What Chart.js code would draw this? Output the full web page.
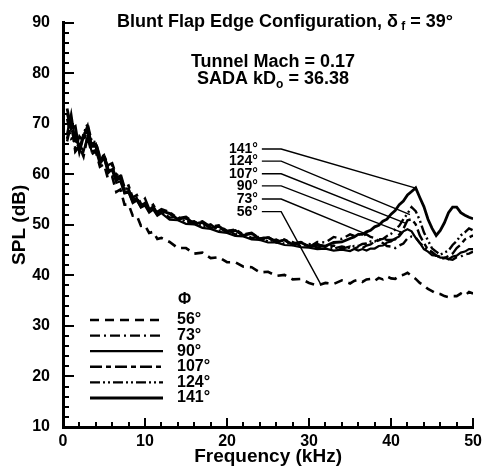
<!DOCTYPE html>
<html>
<head>
<meta charset="utf-8">
<script src="https://cdn.jsdelivr.net/npm/chart.js@4.4.1/dist/chart.umd.min.js"></script>
<style>
  html, body { margin: 0; padding: 0; background: #fff; }
  #spl { display: block; }
</style>
</head>
<body>
<canvas id="spl" width="487" height="472"></canvas>
<script>
var FONT = '"Liberation Sans", Arial, Helvetica, sans-serif';

// frequency (kHz) shared by every microphone angle
var freq = [0.5, 1, 1.5, 2, 2.5, 3, 3.5, 4, 4.5, 5, 5.5, 6, 6.5, 7, 7.5, 8, 8.5, 9, 9.5, 10, 10.5, 11, 11.5, 12,
    13, 14, 15, 16, 17, 18, 19, 20, 21, 22, 23, 24, 25, 26, 27, 28, 29, 30, 31, 32, 33, 34, 35,
    35.5, 36, 36.5, 37, 37.5, 38, 38.5, 39, 39.5, 40, 40.5, 41, 41.5, 42, 42.5, 43, 43.5, 44, 44.5,
    45, 45.5, 46, 46.5, 47, 47.5, 48, 48.5, 49, 49.5, 50];

// SPL (dB) per angle
var spl56 = [67, 70.5, 64.5, 65.5, 63.5, 67.5, 64, 64.5, 61.5, 62, 59, 59.5, 56.5, 57, 54, 54, 51.8, 51.8, 49.8, 49.9, 48.4, 48.6, 47.2, 47.4,
    46.6, 45.4, 45.4, 44.3, 44.5, 43.4, 43.6, 42.6, 42.6, 41.7, 41.6, 40.6, 40.7, 39.9, 40.1, 39.2, 39.3, 38.5, 38.0, 38.5, 38.3, 39.0, 38.4,
    38.9, 39.1, 38.7, 39.2, 39.3, 38.9, 39.5, 39.2, 39.8, 39.4, 39.3, 39.9, 40.1, 40.5, 39.9, 39.3, 38.5, 38.0, 37.3,
    36.9, 36.4, 36.3, 35.9, 35.7, 35.9, 35.9, 36.4, 36.0, 36.7, 36.4];
var spl73 = [71, 67, 67.5, 64.5, 68, 68.5, 65.5, 66, 62.5, 64, 60.8, 61.8, 58.8, 59.5, 56.8, 57, 54.8, 55.5, 53.6, 54.2, 52.6, 53.4, 52.1, 52.6,
    52.3, 51.0, 51.3, 50.1, 50.4, 49.3, 49.5, 48.5, 48.9, 47.8, 48.2, 47.0, 47.5, 46.5, 47.0, 46.0, 46.5, 45.6, 46.6, 46.5, 47.6, 47.2, 48.1,
    47.8, 48.2, 47.9, 48.1, 47.6, 47.4, 46.7, 46.4, 45.8, 45.7, 45.4, 45.9, 46.3, 47.3, 47.7, 47.5, 46.4, 45.7, 44.9,
    44.6, 43.9, 43.7, 43.2, 43.2, 43.1, 43.6, 43.7, 44.2, 44.3, 44.7];
var spl90 = [68, 72, 66.5, 66, 64.5, 67.5, 64.5, 64.8, 62, 63.2, 60.2, 61, 58.3, 58.6, 56.2, 56.4, 54.3, 54.8, 53.4, 53.8, 52.4, 53, 51.8, 52.3,
    51.0, 50.9, 50.2, 50.1, 49.4, 49.2, 48.6, 48.4, 47.8, 47.7, 47.1, 47.0, 46.5, 46.5, 46.0, 45.9, 45.6, 45.5, 45.2, 45.3, 44.9, 45.1, 44.8,
    45.2, 44.9, 45.2, 44.9, 45.3, 45.3, 45.8, 45.9, 46.5, 46.7, 47.3, 47.7, 48.7, 49.1, 48.7, 47.4, 46.4, 45.2, 44.7,
    44.0, 43.9, 43.5, 43.5, 43.2, 43.7, 43.9, 44.5, 44.7, 45.2, 45.2];
var spl107 = [66.5, 70, 65, 67.5, 66.5, 69, 66, 66.3, 63.6, 63.8, 61.8, 62.2, 59.8, 60.2, 57.4, 57.8, 55.4, 55.9, 54.2, 55.2, 53.2, 54, 52.6, 53.1,
    52.5, 51.3, 51.6, 50.4, 50.7, 49.6, 49.9, 48.8, 49.1, 48.1, 48.4, 47.3, 47.6, 46.7, 47.1, 46.3, 46.6, 45.8, 46.2, 45.6, 45.9, 45.3, 45.7,
    45.3, 45.6, 45.4, 45.9, 46.1, 46.7, 46.9, 47.4, 47.0, 47.0, 47.1, 48.1, 49.2, 50.9, 51.1, 50.1, 47.9, 46.4, 45.1,
    44.6, 43.9, 43.7, 43.4, 43.8, 44.3, 45.4, 46.1, 47.1, 47.5, 47.9];
var spl124 = [72, 68.5, 68.5, 65, 68, 70, 66.5, 66.4, 63.2, 63.8, 61.3, 61.8, 59.3, 59.7, 57.2, 57.1, 54.9, 55.3, 53.7, 54.4, 52.8, 53.4, 52, 52.7,
    51.4, 51.6, 50.5, 50.7, 49.6, 50.1, 48.8, 49.1, 48.1, 48.3, 47.4, 47.6, 46.7, 47.1, 46.2, 46.6, 45.8, 46.2, 45.5, 45.9, 45.3, 45.7, 45.4,
    45.8, 45.8, 46.2, 46.3, 46.7, 46.7, 47.1, 47.2, 47.8, 48.2, 49.1, 49.8, 51.1, 52.2, 53.5, 52.7, 50.9, 48.5, 46.9,
    45.3, 44.7, 44.1, 44.5, 44.9, 46.0, 46.8, 47.9, 48.5, 49.3, 48.9];
var spl141 = [73, 69, 69.5, 64.5, 67.5, 69.5, 65.5, 65.5, 62.8, 63.3, 60.8, 60.8, 58.8, 59.3, 56.4, 56.6, 54.7, 55.1, 53.6, 54.3, 52.9, 53.6, 52.2, 52.8,
    52.2, 51.1, 51.4, 50.2, 50.5, 49.4, 49.7, 48.6, 48.9, 47.9, 48.3, 47.2, 47.5, 46.6, 47.0, 46.1, 46.5, 45.7, 46.0, 45.8, 46.5, 46.6, 47.3,
    47.6, 48.1, 48.1, 48.6, 48.9, 49.6, 49.9, 50.7, 51.1, 52.1, 52.8, 54.0, 54.7, 55.9, 56.6, 57.3, 55.4, 53.6, 51.1,
    49.3, 47.9, 48.9, 50.4, 52.4, 53.5, 53.5, 52.4, 51.9, 51.5, 51.2];

var angleLabels = ['56°', '73°', '90°', '107°', '124°', '141°'];
var xTickValues = [0, 10, 20, 30, 40, 50];
var yTickValues = [10, 20, 30, 40, 50, 60, 70, 80, 90];

// callout lines: [kHz, dB] where the label sits, the elbow, and the point on the curve
var calloutLabelAt = [[24.0, 52.6], [24.0, 55.1], [24.0, 57.7], [24.0, 60.1], [24.0, 62.6], [24.0, 65.0]];
var calloutElbow = [[26.6, 52.6], [26.6, 55.1], [26.6, 57.7], [26.6, 60.1], [26.6, 62.6], [26.6, 65.0]];
var calloutEnd = [[31.4, 38.3], [37.2, 48.0], [41.3, 48.5], [41.8, 50.3], [42.3, 52.0], [42.9, 57.3]];

var series = [spl56, spl73, spl90, spl107, spl124, spl141];
var dashes = [[9, 6], [10, 4, 2, 4], [], [12, 4, 5, 4], [10, 3, 2, 3, 2, 3], []];
var widths = [2.6, 2.4, 2.2, 2.4, 2.4, 2.8];

var datasets = series.map(function (s, i) {
    return {
        label: angleLabels[i],
        data: freq.map(function (f, k) { return { x: f, y: s[k] }; }),
        borderColor: '#000',
        borderWidth: widths[i],
        borderDash: dashes[i],
        pointRadius: 0,
        tension: 0,
        fill: false
    };
});

function line(ctx, x1, y1, x2, y2) {
    ctx.beginPath();
    ctx.moveTo(x1, y1);
    ctx.lineTo(x2, y2);
    ctx.stroke();
}

// inward pointing major/minor ticks
var inwardTicks = {
    id: 'inwardTicks',
    afterDraw: function (chart) {
        var ctx = chart.ctx, a = chart.chartArea, x = chart.scales.x, y = chart.scales.y;
        ctx.save();
        ctx.strokeStyle = '#000';
        ctx.lineWidth = 2;
        for (var v = 0; v <= 50; v += 2) {
            var px = Math.round(x.getPixelForValue(v));
            line(ctx, px, a.bottom, px, a.bottom - (v % 10 === 0 ? 9 : 5));
        }
        for (var w = 10; w <= 90; w += 2) {
            var py = Math.round(y.getPixelForValue(w));
            line(ctx, a.left, py, a.left + (w % 10 === 0 ? 11 : 6), py);
        }
        ctx.restore();
    }
};

// headings, callouts and key
var annotations = {
    id: 'annotations',
    afterDraw: function (chart) {
        var ctx = chart.ctx, x = chart.scales.x, y = chart.scales.y;
        ctx.save();
        ctx.fillStyle = '#000';
        ctx.strokeStyle = '#000';
        ctx.textBaseline = 'middle';

        // heading line with subscript f
        var big = 'bold 18px ' + FONT, small = 'bold 12px ' + FONT;
        var partA = 'Blunt Flap Edge Configuration, δ', partB = 'f', partC = ' = 39°';
        ctx.font = big;
        var wA = ctx.measureText(partA).width, wC = ctx.measureText(partC).width;
        ctx.font = small;
        var wB = ctx.measureText(' ' + partB).width;
        var total = wA + wB + wC;
        var x0 = 285 - total / 2;
        ctx.textAlign = 'left';
        ctx.font = big; ctx.fillText(partA, x0, 22);
        ctx.font = small; ctx.fillText(' ' + partB, x0 + wA, 27);
        ctx.font = big; ctx.fillText(partC, x0 + wA + wB, 22);

        ctx.textAlign = 'center';
        ctx.font = big;
        ctx.fillText('Tunnel Mach = 0.17', 273, 62);

        var sA = 'SADA kD', sB = 'o', sC = ' = 36.38';
        var wsA = ctx.measureText(sA).width, wsC = ctx.measureText(sC).width;
        ctx.font = small;
        var wsB = ctx.measureText(sB).width;
        var sx = 273 - (wsA + wsB + wsC) / 2;
        ctx.textAlign = 'left';
        ctx.font = big; ctx.fillText(sA, sx, 79);
        ctx.font = small; ctx.fillText(sB, sx + wsA, 85);
        ctx.font = big; ctx.fillText(sC, sx + wsA + wsB, 79);

        // callouts
        ctx.lineWidth = 1.4;
        ctx.setLineDash([]);
        ctx.font = 'bold 14px ' + FONT;
        ctx.textAlign = 'right';
        for (var i = 0; i < angleLabels.length; i++) {
            var lx = x.getPixelForValue(calloutLabelAt[i][0]), ly = y.getPixelForValue(calloutLabelAt[i][1]);
            ctx.fillText(angleLabels[i], lx - 2, ly);
            ctx.beginPath();
            ctx.moveTo(lx + 2, ly);
            ctx.lineTo(x.getPixelForValue(calloutElbow[i][0]), y.getPixelForValue(calloutElbow[i][1]));
            ctx.lineTo(x.getPixelForValue(calloutEnd[i][0]), y.getPixelForValue(calloutEnd[i][1]));
            ctx.stroke();
        }

        // key
        ctx.font = 'bold 16px ' + FONT;
        ctx.textAlign = 'left';
        ctx.fillText('Φ', 178, 300);
        for (var k = 0; k < datasets.length; k++) {
            var ky = 320 + k * 15.6;
            ctx.lineWidth = widths[k];
            ctx.setLineDash(dashes[k]);
            line(ctx, 90, ky, 163, ky);
            ctx.setLineDash([]);
            ctx.fillText(angleLabels[k], 177, ky);
        }
        ctx.restore();
    }
};

new Chart(document.getElementById('spl').getContext('2d'), {
    type: 'line',
    data: { datasets: datasets },
    options: {
        responsive: false,
        animation: false,
        devicePixelRatio: 1,
        layout: { padding: { top: 15, right: 10, left: 0, bottom: 0 } },
        plugins: { legend: { display: false }, tooltip: { enabled: false } },
        scales: {
            x: {
                type: 'linear', min: 0, max: 50,
                afterBuildTicks: function (s) { s.ticks = xTickValues.map(function (v) { return { value: v }; }); },
                afterFit: function (s) { s.height = 45; },
                grid: { display: false, drawTicks: false },
                border: { display: true, width: 3, color: '#000' },
                ticks: { color: '#000', padding: 5, maxRotation: 0, font: { family: FONT, size: 16, weight: 'bold' } },
                title: { display: true, text: 'Frequency (kHz)', color: '#000', padding: { top: 0, bottom: 4 },
                    font: { family: FONT, size: 19, weight: 'bold' } }
            },
            y: {
                type: 'linear', min: 10, max: 90,
                afterBuildTicks: function (s) { s.ticks = yTickValues.map(function (v) { return { value: v }; }); },
                afterFit: function (s) { s.width = 63; },
                grid: { display: false, drawTicks: false },
                border: { display: true, width: 3, color: '#000' },
                ticks: { color: '#000', padding: 13, font: { family: FONT, size: 16, weight: 'bold' } },
                title: { display: true, text: 'SPL (dB)', color: '#000', padding: { top: 8, bottom: 0 },
                    font: { family: FONT, size: 19, weight: 'bold' } }
            }
        }
    },
    plugins: [inwardTicks, annotations]
});
</script>
</body>
</html>
